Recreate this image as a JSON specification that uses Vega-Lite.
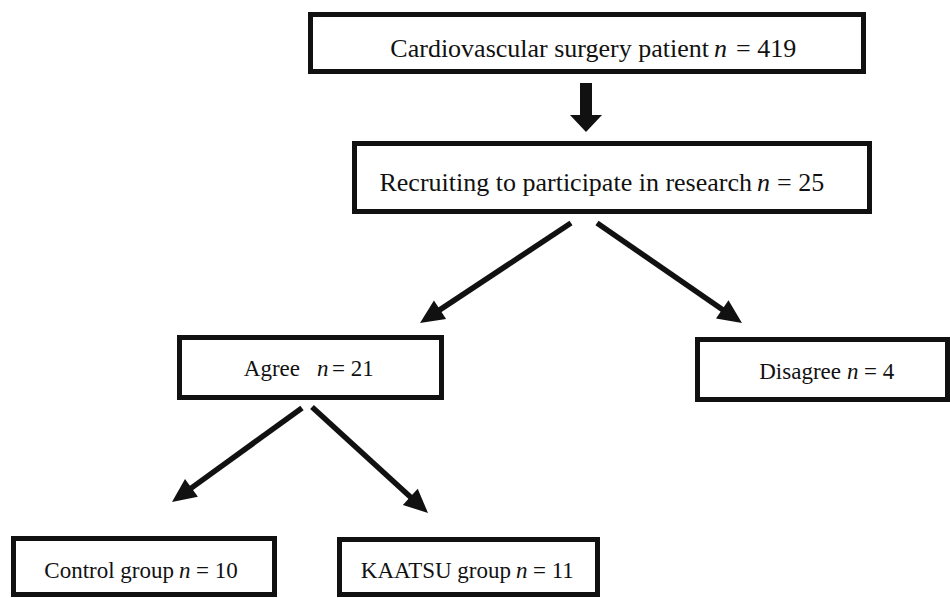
{
  "$schema": "https://vega.github.io/schema/vega-lite/v6.json",
  "width": 950,
  "height": 598,
  "padding": 0,
  "autosize": {"type": "fit", "contains": "padding"},
  "background": "white",
  "config": {"view": {"stroke": null}},
  "datasets": {
    "boxes": [
      {"name": "patients", "x1": 310.5, "x2": 863.5, "y1": 14.5, "y2": 71.5},
      {"name": "recruit", "x1": 354.5, "x2": 869.5, "y1": 143.5, "y2": 211.5},
      {"name": "agree", "x1": 179.5, "x2": 441.5, "y1": 337.5, "y2": 397.5},
      {"name": "disagree", "x1": 697.5, "x2": 947.5, "y1": 339.5, "y2": 399.5},
      {"name": "control", "x1": 13.5, "x2": 274.5, "y1": 538.5, "y2": 594.5},
      {"name": "kaatsu", "x1": 339.5, "x2": 597.5, "y1": 539.5, "y2": 594.5}
    ],
    "arrows": [
      {"from": "recruit", "to": "agree", "x1": 571, "y1": 223, "x2": 420, "y2": 323},
      {"from": "recruit", "to": "disagree", "x1": 597, "y1": 223, "x2": 742, "y2": 323},
      {"from": "agree", "to": "control", "x1": 302, "y1": 408, "x2": 172, "y2": 502},
      {"from": "agree", "to": "kaatsu", "x1": 312, "y1": 407, "x2": 428, "y2": 513}
    ],
    "bigarrow": [
      {"from": "patients", "to": "recruit", "x": 586, "y": 132}
    ],
    "labels": [
      {"tier": "main", "pre": "Cardiovascular surgery patient", "pe": 709, "nx": 714, "suf": "= 419", "sx": 736, "y": 57},
      {"tier": "main", "pre": "Recruiting to participate in research", "pe": 752, "nx": 757, "suf": "= 25", "sx": 777, "y": 191},
      {"tier": "branch", "pre": "Agree", "pe": 300, "nx": 317, "suf": "= 21", "sx": 332, "y": 376},
      {"tier": "branch", "pre": "Disagree", "pe": 841, "nx": 847, "suf": "= 4", "sx": 864, "y": 379},
      {"tier": "branch", "pre": "Control group", "pe": 174, "nx": 179, "suf": "= 10", "sx": 196, "y": 578},
      {"tier": "branch", "pre": "KAATSU  group", "pe": 511, "nx": 516, "suf": "= 11", "sx": 533, "y": 578}
    ]
  },
  "layer": [
    {
      "data": {"name": "boxes"},
      "mark": {"type": "rect", "fill": "white", "stroke": "#111111", "strokeWidth": 5},
      "encoding": {
        "x": {"field": "x1", "type": "quantitative", "scale": {"domain": [0, 950], "nice": false, "zero": false}, "axis": null},
        "x2": {"field": "x2"},
        "y": {"field": "y1", "type": "quantitative", "scale": {"domain": [0, 598], "nice": false, "zero": false, "reverse": true}, "axis": null},
        "y2": {"field": "y2"}
      }
    },
    {
      "data": {"name": "arrows"},
      "transform": [
        {"calculate": "sqrt(pow(datum.x2 - datum.x1, 2) + pow(datum.y2 - datum.y1, 2))", "as": "len"},
        {"calculate": "datum.x2 - (datum.x2 - datum.x1) / datum.len * 16", "as": "sx"},
        {"calculate": "datum.y2 - (datum.y2 - datum.y1) / datum.len * 16", "as": "sy"}
      ],
      "mark": {"type": "rule", "color": "#111111", "strokeWidth": 5.5, "strokeCap": "butt"},
      "encoding": {
        "x": {"field": "x1", "type": "quantitative", "axis": null},
        "y": {"field": "y1", "type": "quantitative", "axis": null},
        "x2": {"field": "sx"},
        "y2": {"field": "sy"}
      }
    },
    {
      "data": {"name": "arrows"},
      "transform": [
        {"calculate": "atan2(datum.x2 - datum.x1, datum.y1 - datum.y2) * 180 / PI", "as": "angle"}
      ],
      "mark": {"type": "point", "shape": "M0,0L-11,24L11,24Z", "filled": true, "size": 4, "color": "#111111", "opacity": 1, "strokeWidth": 0},
      "encoding": {
        "x": {"field": "x2", "type": "quantitative", "axis": null},
        "y": {"field": "y2", "type": "quantitative", "axis": null},
        "angle": {"field": "angle", "type": "quantitative", "scale": null}
      }
    },
    {
      "data": {"name": "bigarrow"},
      "mark": {"type": "point", "shape": "M0,0L-16,-17L-6,-17L-6,-49L6,-49L6,-17L16,-17Z", "filled": true, "size": 4, "color": "#111111", "opacity": 1, "strokeWidth": 0},
      "encoding": {
        "x": {"field": "x", "type": "quantitative", "axis": null},
        "y": {"field": "y", "type": "quantitative", "axis": null}
      }
    },
    {
      "data": {"name": "labels"},
      "mark": {"type": "text", "align": "right", "baseline": "alphabetic", "font": "Liberation Serif", "color": "#111111"},
      "encoding": {
        "x": {"field": "pe", "type": "quantitative", "axis": null},
        "y": {"field": "y", "type": "quantitative", "axis": null},
        "text": {"field": "pre"},
        "size": {"field": "tier", "type": "nominal", "scale": {"domain": ["main", "branch"], "range": [26, 23]}, "legend": null}
      }
    },
    {
      "data": {"name": "labels"},
      "mark": {"type": "text", "align": "left", "baseline": "alphabetic", "font": "Liberation Serif", "fontStyle": "italic", "color": "#111111"},
      "encoding": {
        "x": {"field": "nx", "type": "quantitative", "axis": null},
        "y": {"field": "y", "type": "quantitative", "axis": null},
        "text": {"value": "n"},
        "size": {"field": "tier", "type": "nominal", "scale": {"domain": ["main", "branch"], "range": [26, 23]}, "legend": null}
      }
    },
    {
      "data": {"name": "labels"},
      "mark": {"type": "text", "align": "left", "baseline": "alphabetic", "font": "Liberation Serif", "color": "#111111"},
      "encoding": {
        "x": {"field": "sx", "type": "quantitative", "axis": null},
        "y": {"field": "y", "type": "quantitative", "axis": null},
        "text": {"field": "suf"},
        "size": {"field": "tier", "type": "nominal", "scale": {"domain": ["main", "branch"], "range": [26, 23]}, "legend": null}
      }
    }
  ]
}
